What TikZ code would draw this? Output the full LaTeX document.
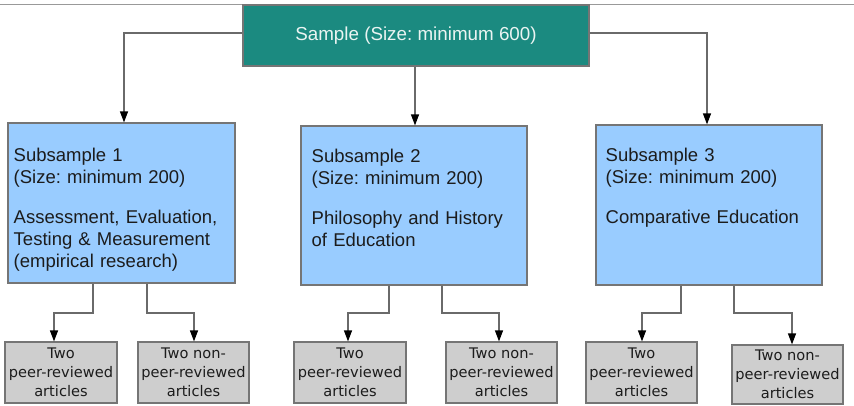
\documentclass[tikz,border=0pt]{standalone}
\usepackage{fontspec}
\setmainfont{Liberation Sans}
\newfontfamily\dvs{DejaVu Sans}
\usetikzlibrary{arrows.meta}
\frenchspacing
\definecolor{tealbox}{HTML}{1B8A80}
\definecolor{tealtext}{HTML}{EAF4F2}
\definecolor{bluebox}{HTML}{99CCFF}
\definecolor{greybox}{HTML}{CECECE}
\definecolor{edgecol}{HTML}{757575}
\definecolor{linecol}{HTML}{6A6A6A}
\definecolor{txt}{HTML}{1C1C1C}
\tikzset{
  samplebox/.style={draw=edgecol, fill=tealbox, line width=1.2pt, text=tealtext,
    inner sep=0pt, font=\fontsize{18.8}{21}\selectfont},
  subbox/.style={draw=edgecol, fill=bluebox, line width=1.2pt, inner sep=0pt},
  subtext/.style={anchor=base west, inner sep=0pt, text width=215pt, align=left,
    text=txt, font=\fontsize{18.5}{21.7}\selectfont},
  artbox/.style={draw=edgecol, fill=greybox, line width=1.2pt, inner sep=0pt,
    align=center, text=txt, font=\dvs\fontsize{14.6}{19}\selectfont},
  conn/.style={draw=linecol, line width=1.2pt, -{Triangle[black,width=8pt,length=11pt]}}
}
\begin{document}
\begin{tikzpicture}[x=1pt,y=-1pt]
\useasboundingbox (0,0) rectangle (854,405);
\draw[black!40, line width=0.8pt] (0,4) -- (854,4);

% main sample box
\node[samplebox, minimum width=346pt, minimum height=61pt] (s) at (416,35.5)
  {Sample (Size: minimum 600)};

% subsample boxes
\node[subbox, minimum width=227pt, minimum height=160pt] (s1) at (121.5,203) {};
\node[subbox, minimum width=226pt, minimum height=159pt] (s2) at (414,205.5) {};
\node[subbox, minimum width=226pt, minimum height=160pt] (s3) at (709,205) {};

\node[subtext] (t1) at (13.5,161.5)
  {Subsample 1\\(Size: minimum 200)\\[19pt]Assessment, Evaluation,\\Testing \& Measurement\\(empirical research)};
\node[subtext] (t2) at (311.5,162.5)
  {Subsample 2\\(Size: minimum 200)\\[19pt]Philosophy and History\\of Education};
\node[subtext] (t3) at (605.5,161.5)
  {Subsample 3\\(Size: minimum 200)\\[19pt]Comparative Education};

% article boxes
\node[artbox, minimum width=112pt, minimum height=61pt] (b1) at (61,372.5) {Two\\peer-reviewed\\articles};
\node[artbox, minimum width=111pt, minimum height=61pt] (b2) at (193.5,372.5) {Two non-\\peer-reviewed\\articles};
\node[artbox, minimum width=112pt, minimum height=61pt] (b3) at (350,372.5) {Two\\peer-reviewed\\articles};
\node[artbox, minimum width=111pt, minimum height=61pt] (b4) at (501.5,372.5) {Two non-\\peer-reviewed\\articles};
\node[artbox, minimum width=111pt, minimum height=61pt] (b5) at (641.5,372.5) {Two\\peer-reviewed\\articles};
\node[artbox, minimum width=111pt, minimum height=59pt] (b6) at (787.5,374.5) {Two non-\\peer-reviewed\\articles};

% connectors from sample
\draw[conn] (s.west |- 0,33) -| (s1.north -| 124,0);
\draw[conn] (s.south -| 415,0) -- (s2.north -| 415,0);
\draw[conn] (s.east |- 0,33) -| (s3.north -| 707,0);

% connectors to article boxes
\draw[conn] (s1.south -| 93,0) |- (54,313) -- (b1.north -| 54,0);
\draw[conn] (s1.south -| 147,0) |- (194,313) -- (b2.north -| 194,0);
\draw[conn] (s2.south -| 389,0) |- (348,313) -- (b3.north -| 348,0);
\draw[conn] (s2.south -| 442,0) |- (499,313) -- (b4.north -| 499,0);
\draw[conn] (s3.south -| 681,0) |- (642,313) -- (b5.north -| 642,0);
\draw[conn] (s3.south -| 734,0) |- (792,313) -- (b6.north -| 792,0);
\end{tikzpicture}
\end{document}
